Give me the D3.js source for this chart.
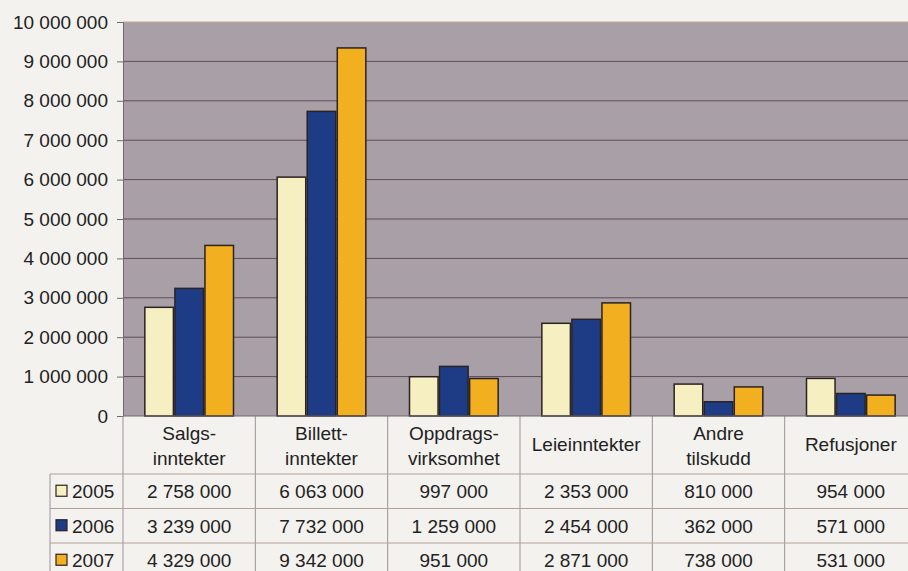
<!DOCTYPE html>
<html>
<head>
<meta charset="utf-8">
<script src="https://cdn.jsdelivr.net/npm/d3@7"></script>
<style>
  body { margin: 0; background: #f4f2ef; }
  svg { display: block; font-family: "Liberation Sans", Arial, Helvetica, sans-serif; }
</style>
</head>
<body>
<svg id="chart"></svg>
<script>
const width = 908, height = 571;

// data
const categories = ["Salgs-inntekter", "Billett-inntekter", "Oppdrags-virksomhet", "Leieinntekter", "Andre tilskudd", "Refusjoner"];
const categoryLines = [["Salgs-", "inntekter"], ["Billett-", "inntekter"], ["Oppdrags-", "virksomhet"], ["Leieinntekter"], ["Andre", "tilskudd"], ["Refusjoner"]];
const years = ["2005", "2006", "2007"];
const values2005 = [2758000, 6063000, 997000, 2353000, 810000, 954000];
const values2006 = [3239000, 7732000, 1259000, 2454000, 362000, 571000];
const values2007 = [4329000, 9342000, 951000, 2871000, 738000, 531000];
const yTicks = [0, 1000000, 2000000, 3000000, 4000000, 5000000, 6000000, 7000000, 8000000, 9000000, 10000000];
const colors = ["#f6efc1", "#1e3c86", "#f2b021"];

const series = [values2005, values2006, values2007];
const fmt = v => d3.format(",")(v).replace(/,/g, " ");
const fontSize = "19px";

const svg = d3.select("#chart").attr("width", width).attr("height", height);
svg.append("rect").attr("width", width).attr("height", height).attr("fill", "#f4f2ef");

// 1. scales
const plotLeft = 123, plotRight = 917, plotTop = 22, plotBottom = 416;
const x0 = d3.scaleBand().domain(categories).range([plotLeft, plotRight]).paddingInner(0.33).paddingOuter(0.165);
const x1 = d3.scaleBand().domain(years).range([0, x0.bandwidth()]).paddingInner(0.05);
const y = d3.scaleLinear().domain([0, 10000000]).range([plotBottom, plotTop]);

// 2. plot background + grid
svg.append("rect")
  .attr("x", plotLeft).attr("y", plotTop)
  .attr("width", plotRight - plotLeft).attr("height", plotBottom - plotTop)
  .attr("fill", "#a9a0a7");

svg.append("g").selectAll("line")
  .data(yTicks.filter(t => t > 0))
  .join("line")
  .attr("x1", plotLeft).attr("x2", plotRight)
  .attr("y1", d => y(d)).attr("y2", d => y(d))
  .attr("stroke", d => d === 10000000 ? "#c9a88a" : "#5e4c58")
  .attr("stroke-width", 1);

// 3. bars
const groups = svg.append("g").selectAll("g")
  .data(categories)
  .join("g")
  .attr("transform", d => `translate(${x0(d)},0)`);

groups.selectAll("rect")
  .data((d, i) => years.map((yr, j) => ({ yr, v: series[j][i], j })))
  .join("rect")
  .attr("x", d => x1(d.yr))
  .attr("y", d => y(d.v))
  .attr("width", x1.bandwidth())
  .attr("height", d => y(0) - y(d.v))
  .attr("fill", d => colors[d.j])
  .attr("stroke", "#2b2222")
  .attr("stroke-width", 1.5);

// 4. y axis
const yAxis = d3.axisLeft(y).tickValues(yTicks).tickSize(6).tickPadding(9).tickFormat(fmt);
const ya = svg.append("g").attr("transform", `translate(${plotLeft},0)`).call(yAxis);
ya.select(".domain").attr("stroke", "#6e6870");
ya.selectAll(".tick line").attr("stroke", "#6e6870");
ya.selectAll(".tick text").attr("fill", "#222").style("font-size", fontSize).attr("font-family", null);

// 5. data table
const headerBottom = 474, rowH = 34.5;
const tableLeft = 50;
const lineColor = "#9b9396";
const table = svg.append("g");

// vertical lines
const colEdges = categories.map(c => x0(c) - x0.step() * x0.paddingInner() / 2);
colEdges.push(plotRight);
table.selectAll("line.v")
  .data(colEdges)
  .join("line")
  .attr("x1", d => d).attr("x2", d => d)
  .attr("y1", plotBottom).attr("y2", height)
  .attr("stroke", lineColor);
table.append("line")
  .attr("x1", tableLeft).attr("x2", tableLeft)
  .attr("y1", headerBottom).attr("y2", height)
  .attr("stroke", lineColor);

// horizontal lines
[headerBottom, headerBottom + rowH, headerBottom + 2 * rowH].forEach(yy => {
  table.append("line")
    .attr("x1", tableLeft).attr("x2", plotRight)
    .attr("y1", yy).attr("y2", yy)
    .attr("stroke", "#b0a096");
});
table.append("line")
  .attr("x1", plotLeft).attr("x2", plotRight)
  .attr("y1", plotBottom).attr("y2", plotBottom)
  .attr("stroke", "#6e6870");

// category headers
categories.forEach((c, i) => {
  const cx = x0(c) + x0.bandwidth() / 2;
  const lines = categoryLines[i];
  const t = table.append("text")
    .attr("x", cx)
    .attr("text-anchor", "middle")
    .style("font-size", fontSize)
    .attr("fill", "#222");
  if (lines.length === 1) {
    t.attr("y", 451).text(lines[0]);
  } else {
    t.append("tspan").attr("x", cx).attr("y", 440).text(lines[0]);
    t.append("tspan").attr("x", cx).attr("y", 465).text(lines[1]);
  }
});

// rows
years.forEach((yr, j) => {
  const cy = headerBottom + rowH * j + rowH / 2;
  table.append("rect")
    .attr("x", 56).attr("y", cy - 6)
    .attr("width", 11).attr("height", 11)
    .attr("fill", colors[j])
    .attr("stroke", "#2b2222").attr("stroke-width", 1.2);
  table.append("text")
    .attr("x", 72).attr("y", cy + 7)
    .style("font-size", fontSize)
    .attr("fill", "#222")
    .text(yr);
  categories.forEach((c, i) => {
    table.append("text")
      .attr("x", x0(c) + x0.bandwidth() / 2)
      .attr("y", cy + 7)
      .attr("text-anchor", "middle")
      .style("font-size", fontSize)
      .attr("fill", "#222")
      .text(fmt(series[j][i]));
  });
});
</script>
</body>
</html>
